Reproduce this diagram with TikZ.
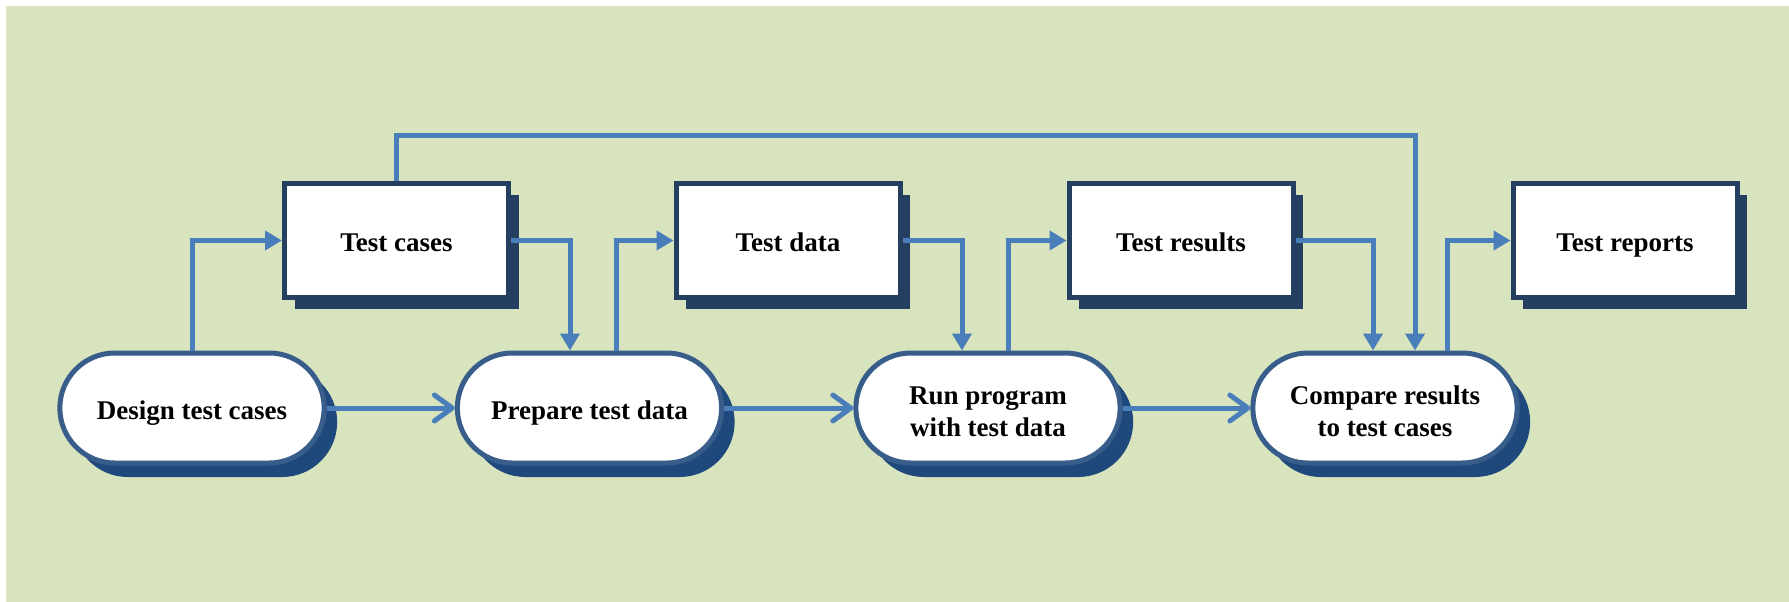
\documentclass[tikz,border=0pt]{standalone}
\usepackage{fontspec}
\setmainfont{Liberation Serif}
\usetikzlibrary{arrows.meta,shapes.misc,shadows}
\definecolor{pagegreen}{HTML}{D7E4BD}
\definecolor{flowblue}{HTML}{4A7EBB}
\definecolor{boxnavy}{HTML}{243F60}
\definecolor{stepedge}{HTML}{385D8A}
\definecolor{stepshadow}{HTML}{1F497D}

\begin{document}
\begin{tikzpicture}[x=1pt, y=-1pt,
	steptext/.style={font=\bfseries\fontsize{27}{32}\selectfont, align=center, text depth=6pt},
	databox/.style={steptext, text height=28pt, draw=boxnavy, line width=5pt, fill=white, minimum width=224pt, minimum height=114pt,
		drop shadow={shadow xshift=10pt, shadow yshift=-11pt, fill=boxnavy, opacity=1}},
	stepbox/.style={steptext, rounded rectangle, draw=stepedge, line width=5pt, fill=white, minimum width=271pt, minimum height=110pt,
		drop shadow={shadow xshift=13pt, shadow yshift=-14pt, fill=stepshadow, opacity=1}},
	link/.style={draw=flowblue, line width=5pt, -{Triangle[length=17pt, width=19pt]}},
	flow/.style={draw=flowblue, line width=5pt, -{Straight Barb[length=18pt, width=26pt, round]}}]

	% page
	\fill[white] (0,0) rectangle (1789,602); 
	\fill[pagegreen] (6,6) rectangle (1789,602); 

	% data boxes
	\foreach \name/\x/\txt in {tcases/396.5/Test cases, tdata/788/Test data, tresults/1181/Test results, treports/1625/Test reports}{
		\node[databox] (\name) at (\x,240.5) {\txt}; 
	}

	% process steps (\h = text height, one or two lines)
	\foreach \name/\x/\h/\txt in {design/192/29/Design test cases, prepare/589.5/29/Prepare test data, run/988/63/{Run program\\with test data}, compare/1385/63/{Compare results\\to test cases}}{
		\node[stepbox, text height=\h pt] (\name) at (\x,408) {\txt}; 
	}

	% main flow
	\foreach \a/\b in {design/prepare, prepare/run, run/compare}{
		\draw[flow] (\a.east) -- (\b.west); 
	}

	% into and out of the boxes
	\draw[link] (design.north) |- (tcases.west); 
	\draw[link] (tcases.east) -| ([xshift=-19.5pt]prepare.north); 
	\draw[link] ([xshift=26.5pt]prepare.north) |- (tdata.west); 
	\draw[link] (tdata.east) -| ([xshift=-26pt]run.north); 
	\draw[link] ([xshift=20pt]run.north) |- (tresults.west); 
	\draw[link] (tresults.east) -| ([xshift=-12pt]compare.north); 
	\draw[link] ([xshift=62pt]compare.north) |- (treports.west); 

	% test cases over the top
	\coordinate (corner) at (1415,135); 
	\draw[link] (tcases.north) |- (corner) -- ([xshift=30pt]compare.north); 
\end{tikzpicture}
\end{document}
